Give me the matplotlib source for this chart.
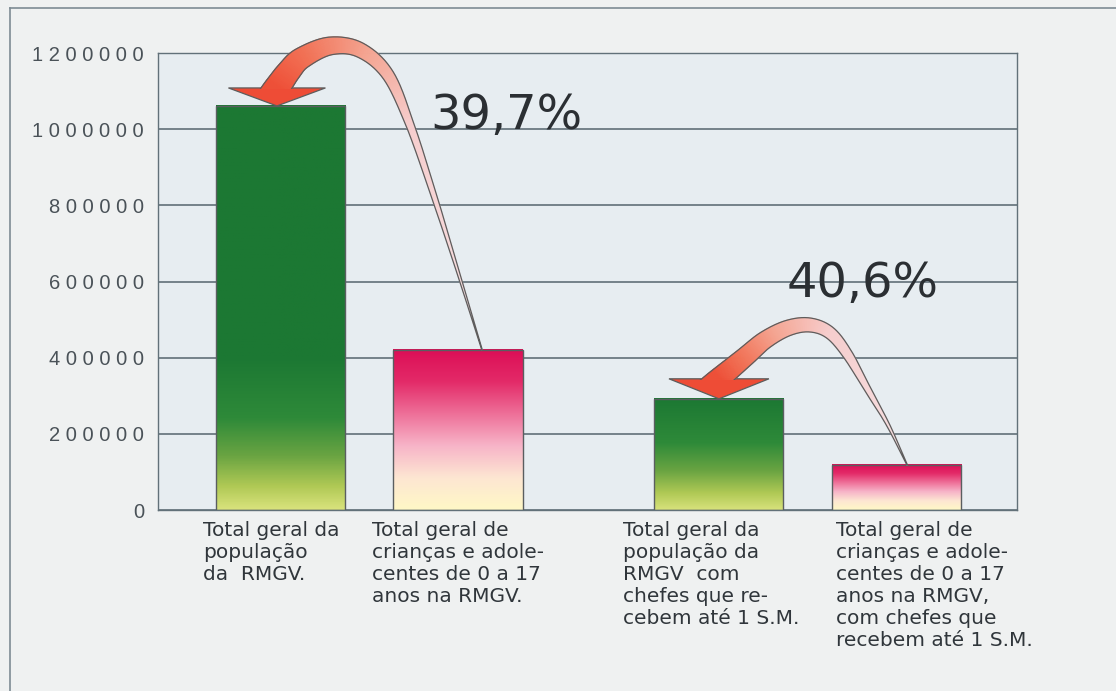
import numpy as np
import matplotlib.pyplot as plt
from matplotlib.colors import LinearSegmentedColormap
from matplotlib.collections import PolyCollection
from matplotlib.patches import Polygon
from matplotlib.lines import Line2D
from matplotlib.ticker import FuncFormatter

# data
values = [1061000, 421000, 292000, 118500]
kinds = ['total', 'jovens', 'total', 'jovens']
labels = [
    'Total geral da\npopulação\nda  RMGV.',
    'Total geral de\ncrianças e adole-\ncentes de 0 a 17\nanos na RMGV.',
    'Total geral da\npopulação da\nRMGV  com\nchefes que re-\ncebem até 1 S.M.',
    'Total geral de\ncrianças e adole-\ncentes de 0 a 17\nanos na RMGV,\ncom chefes que\nrecebem até 1 S.M.',
]
yticks = [0, 200000, 400000, 600000, 800000, 1000000, 1200000]

# layout
xpos = [0, 1, 2.47, 3.47]
bar_w = 0.727
label_dx = [-0.437, -0.485, -0.54, -0.34]

W, H = 1116, 691
fig = plt.figure(figsize=(W / 100, H / 100), dpi=100, facecolor='#eff1f1')
ax = fig.add_axes([158 / W, 181 / H, 859 / W, 457 / H])
ax.set_facecolor('#e7edf1')

green = LinearSegmentedColormap.from_list('g', [
    (0, '#d8e27c'), (0.15, '#b0c955'), (0.35, '#6aa442'),
    (0.6, '#2e8a39'), (1, '#1c7833')])
pink = LinearSegmentedColormap.from_list('p', [
    (0, '#fff8c6'), (0.2, '#fde6d2'), (0.4, '#f7b4c8'),
    (0.6, '#ee6f98'), (0.8, '#e32a68'), (1, '#dc0e56')])

for x, v, k in zip(xpos, values, kinds):
    yy = np.linspace(0, v, 256)
    if k == 'total':
        img = green(np.clip(yy / min(v, 400000), 0, 1))
    else:
        img = pink(yy / v)
    ax.imshow(img[:, None, :], origin='lower', aspect='auto', zorder=2,
              extent=[x - bar_w / 2, x + bar_w / 2, 0, v])
ax.bar(xpos, values, bar_w, facecolor='none', edgecolor='#5a5e60',
       linewidth=1.0, zorder=3)

ax.set_xlim(-0.69, 4.149)
ax.set_ylim(0, 1200000)
ax.set_yticks(yticks)
ax.yaxis.set_major_formatter(FuncFormatter(lambda v, p: ' '.join(str(int(v)))))
ax.tick_params(axis='y', length=0, pad=10, labelsize=14.5, labelcolor='#4a5258')
for t in ax.get_yticklabels():
    t.set_family('Liberation Sans')
ax.set_xticks([])
ax.yaxis.grid(True, color='#56656e', lw=1.1)
ax.set_axisbelow(True)
for s in ax.spines.values():
    s.set_color('#627179')
    s.set_linewidth(1.0)

for x, dx, lab in zip(xpos, label_dx, labels):
    ax.text(x + dx, -30000, lab, ha='left', va='top', fontsize=14.5,
            color='#30363b', family='DejaVu Sans', linespacing=1.2,
            clip_on=False)

# percentages computed from the data
pct1 = values[1] / values[0] * 100
pct2 = values[3] / values[2] * 100
ax.text(0.842, 1000000, f'{pct1:.1f}%'.replace('.', ','), fontsize=34.5,
        color='#2b2f33', family='DejaVu Sans', va='baseline', zorder=8)
ax.text(2.854, 560000, f'{pct2:.1f}%'.replace('.', ','), fontsize=34.5,
        color='#2b2f33', family='DejaVu Sans', va='baseline', zorder=8)


def catmull(P, n=30):
    P = np.asarray(P, float)
    ext = np.vstack([2 * P[0] - P[1], P, 2 * P[-1] - P[-2]])
    out = []
    t = np.linspace(0, 1, n, endpoint=False)[:, None]
    for i in range(len(P) - 1):
        p0, p1, p2, p3 = ext[i:i + 4]
        out.append(0.5 * (2 * p1 + (-p0 + p2) * t
                          + (2 * p0 - 5 * p1 + 4 * p2 - p3) * t ** 2
                          + (-p0 + 3 * p1 - 3 * p2 + p3) * t ** 3))
    out.append(P[-1:])
    return np.vstack(out)


arrow_cmap = LinearSegmentedColormap.from_list('a', [
    (0, '#f8e2e4'), (0.55, '#f6cdcd'), (0.75, '#f5a592'),
    (0.9, '#f27256'), (1, '#ee5038')])
inv = fig.transFigure.inverted()


def curved_arrow(pts, ws, wv, head_w=100, head_len=20):
    P = ax.transData.transform(pts)
    tip = P[-1]
    base = tip + np.array([0, head_len])
    d = base - P[-2]
    d /= np.hypot(*d)
    C = catmull(np.vstack([P[:-1], base, base + d * 30]))
    seg = np.hypot(*np.diff(C, axis=0).T)
    s = np.concatenate([[0], np.cumsum(seg)])
    s_base = s[-31]
    s = np.clip(s / s_base, 0, 1)
    w = np.interp(s, ws, wv)
    tg = np.gradient(C, axis=0)
    tg /= np.hypot(tg[:, 0], tg[:, 1])[:, None]
    nrm = np.column_stack([-tg[:, 1], tg[:, 0]])
    L = C + nrm * w[:, None] / 2
    R = C - nrm * w[:, None] / 2

    # head: horizontal back, pointing straight down
    head = np.array([base + [-head_w / 2, 0], tip, base + [head_w / 2, 0]])
    fig.add_artist(Polygon(inv.transform(head), closed=True, fc='#ee4c36',
                           ec='#5d5d5d', lw=0.9, transform=fig.transFigure,
                           zorder=5))

    # shaft, clipped just below the back of the head
    x0, x1 = base[0] - head_w / 2 - 6, base[0] + head_w / 2 + 6
    yc = base[1] - 1.5
    notch = inv.transform(np.array([[-10, -10], [x0, -10], [x0, yc], [x1, yc],
                                    [x1, -10], [W + 10, -10], [W + 10, H + 10],
                                    [-10, H + 10]]))
    clip = Polygon(notch, closed=True, transform=fig.transFigure)
    quads, cols = [], []
    for i in range(len(C) - 1):
        quads.append(inv.transform(np.array([L[i], L[i + 1], R[i + 1], R[i]])))
        cols.append(arrow_cmap(0.5 * (s[i] + s[i + 1])))
    pc = PolyCollection(quads, facecolors=cols, edgecolors=cols,
                        linewidths=0.6, transform=fig.transFigure, zorder=6)
    pc.set_clip_path(clip)
    fig.add_artist(pc)
    side = inv.transform(np.vstack([L[::-1], R]))
    ln = Line2D(side[:, 0], side[:, 1], color='#5d5d5d', lw=0.9,
                transform=fig.transFigure, zorder=7)
    ln.set_clip_path(clip)
    fig.add_artist(ln)


# arrow waypoints (annotation geometry), ends anchored to the bars
arrow1 = [(xpos[1] + 0.135, values[1]), (0.983, 651200), (0.854, 840300),
          (0.730, 1010900), (0.606, 1142200), (0.448, 1207900),
          (0.279, 1218400), (0.121, 1186900), (0.048, 1152700),
          (xpos[0] - 0.02, values[0])]
arrow2 = [(xpos[3] + 0.06, values[3]), (3.423, 223200), (3.310, 315100),
          (3.197, 407000), (3.096, 464800), (2.983, 485800), (2.859, 477900),
          (2.730, 446400), (2.617, 401700), (xpos[2], values[2])]
curved_arrow(arrow1, [0, 0.13, 0.34, 0.55, 0.8, 1], [0.5, 2, 5, 8, 16, 26],
             head_w=97, head_len=18)
curved_arrow(arrow2, [0, 0.2, 0.4, 0.62, 1], [0.5, 4, 9, 14, 22],
             head_w=100, head_len=20)

# outer frame of the figure box
fig.add_artist(Line2D([10 / W, 1], [1 - 8 / H] * 2, transform=fig.transFigure,
                      color='#7d8b94', lw=1.2))
fig.add_artist(Line2D([10 / W] * 2, [0, 1 - 8 / H], transform=fig.transFigure,
                      color='#7d8b94', lw=1.2))

fig.savefig('out.png', dpi=100, facecolor=fig.get_facecolor())
